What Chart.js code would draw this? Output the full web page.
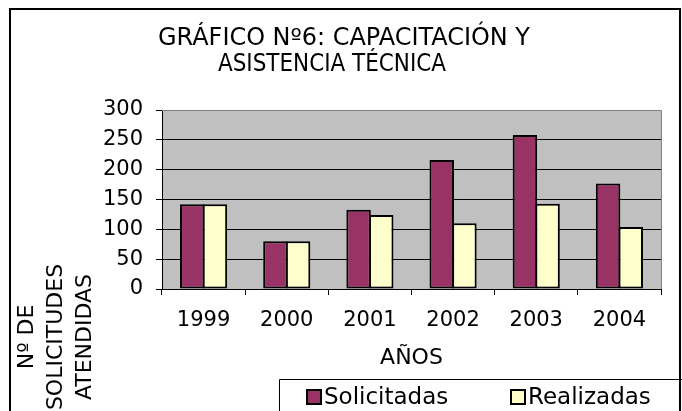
<!DOCTYPE html>
<html lang="es">

<head>
  <meta charset="UTF-8">
  <title>Capacitación y asistencia técnica</title>
  <script src="https://cdn.jsdelivr.net/npm/chart.js@4.4.0/dist/chart.umd.min.js"></script>
  <style>
    html, body { margin: 0; padding: 0; background: #fff; }
  </style>
</head>

<body>
  <canvas id="myChart" width="682" height="411"></canvas>

  <script>
    // datos del gráfico
    const years = ['1999', '2000', '2001', '2002', '2003', '2004'];
    const solicitadas = [142, 80, 133, 216, 258, 177];
    const realizadas = [142, 80, 124, 110, 143, 104];
    const yTicks = [0, 50, 100, 150, 200, 250, 300];
    const seriesNames = ['Solicitadas', 'Realizadas'];
    const titleLines = ['GRÁFICO Nº6: CAPACITACIÓN Y', 'ASISTENCIA TÉCNICA'];
    const yTitleLines = ['Nº DE', 'SOLICITUDES', 'ATENDIDAS'];
    const xTitle = 'AÑOS';

    const FONT = '"DejaVu Sans", Verdana, sans-serif';

    // fondo gris, marco, título, título del eje Y y leyenda
    const decor = {
      id: 'decor',
      beforeDraw(chart) {
        const { ctx, chartArea: a } = chart;
        ctx.save();
        ctx.fillStyle = '#fff';
        ctx.fillRect(0, 0, chart.width, chart.height);
        ctx.fillStyle = '#c0c0c0';
        ctx.fillRect(a.left, a.top, a.right - a.left, a.bottom - a.top);
        ctx.restore();
      },
      afterDraw(chart) {
        const { ctx, chartArea: a } = chart;
        ctx.save();

        // borde gris del área de trazado (arriba y derecha)
        ctx.strokeStyle = '#808080';
        ctx.lineWidth = 1;
        ctx.beginPath();
        ctx.moveTo(a.left, Math.round(a.top) + 0.5);
        ctx.lineTo(Math.round(a.right) + 0.5, Math.round(a.top) + 0.5);
        ctx.lineTo(Math.round(a.right) + 0.5, a.bottom);
        ctx.stroke();

        // título
        ctx.fillStyle = '#000';
        ctx.textAlign = 'center';
        ctx.textBaseline = 'middle';
        ctx.font = '24px ' + FONT;
        ctx.fillText(titleLines[0], 344, 39, 372);
        ctx.fillText(titleLines[1], 332, 65, 228);

        // título del eje Y (girado)
        ctx.font = '22px ' + FONT;
        yTitleLines.forEach((line, i) => {
          ctx.save();
          ctx.translate(27 + i * 29, 337);
          ctx.rotate(-Math.PI / 2);
          ctx.fillText(line, 0, 0);
          ctx.restore();
        });

        // leyenda
        ctx.strokeStyle = '#000';
        ctx.lineWidth = 1;
        ctx.beginPath();
        ctx.moveTo(279.5, chart.height + 5);
        ctx.lineTo(279.5, 379.5);
        ctx.lineTo(chart.width, 379.5);
        ctx.stroke();
        const itemX = [307, 511];
        ctx.textAlign = 'left';
        ctx.font = '23px ' + FONT;
        chart.data.datasets.forEach((ds, i) => {
          ctx.fillStyle = ds.backgroundColor;
          ctx.fillRect(itemX[i], 390, 14, 14);
          ctx.lineWidth = 2;
          ctx.strokeStyle = '#000';
          ctx.strokeRect(itemX[i], 390, 14, 14);
          ctx.fillStyle = '#000';
          ctx.fillText(ds.label, itemX[i] + 17, 398);
        });

        // marco exterior
        ctx.strokeStyle = '#000';
        ctx.lineWidth = 2;
        ctx.strokeRect(10, 9, 670, chart.height + 20);
        ctx.restore();
      }
    };

    let ctx = document.getElementById('myChart').getContext('2d');
    let myChart = new Chart(ctx, {
      type: 'bar',
      data: {
        labels: years,
        datasets: [{
          label: seriesNames[0],
          data: solicitadas,
          backgroundColor: '#993366',
          borderColor: '#000',
          borderWidth: 2,
          borderSkipped: false
        }, {
          label: seriesNames[1],
          data: realizadas,
          backgroundColor: '#ffffcc',
          borderColor: '#000',
          borderWidth: 2,
          borderSkipped: false
        }]
      },
      options: {
        responsive: false,
        animation: false,
        categoryPercentage: 0.545,
        barPercentage: 1.08,
        layout: { padding: { top: 110, left: 10, right: 21, bottom: 0 } },
        plugins: {
          legend: { display: false },
          title: { display: false },
          tooltip: { enabled: false }
        },
        scales: {
          x: {
            afterFit: s => { s.height = 122; },
            grid: { drawOnChartArea: false, tickLength: 6, color: '#000' },
            border: { color: '#000', width: 1 },
            ticks: { color: '#000', font: { family: FONT, size: 21 }, padding: 13, maxRotation: 0 },
            title: {
              display: true, text: xTitle, color: '#000',
              font: { family: FONT, size: 22 }, padding: { top: 0, bottom: 40 }
            }
          },
          y: {
            min: 0,
            max: 300,
            afterFit: s => { s.width = 152; },
            afterBuildTicks: s => { s.ticks = yTicks.map(v => ({ value: v })); },
            grid: {
              tickLength: 6,
              color: c => (c.tick && c.tick.value === 300 ? '#808080' : '#000'),
              tickColor: '#000'
            },
            border: { color: '#000', width: 1 },
            ticks: { color: '#000', font: { family: FONT, size: 21 }, padding: 13 }
          }
        }
      },
      plugins: [decor]
    });
  </script>

</body>

</html>
